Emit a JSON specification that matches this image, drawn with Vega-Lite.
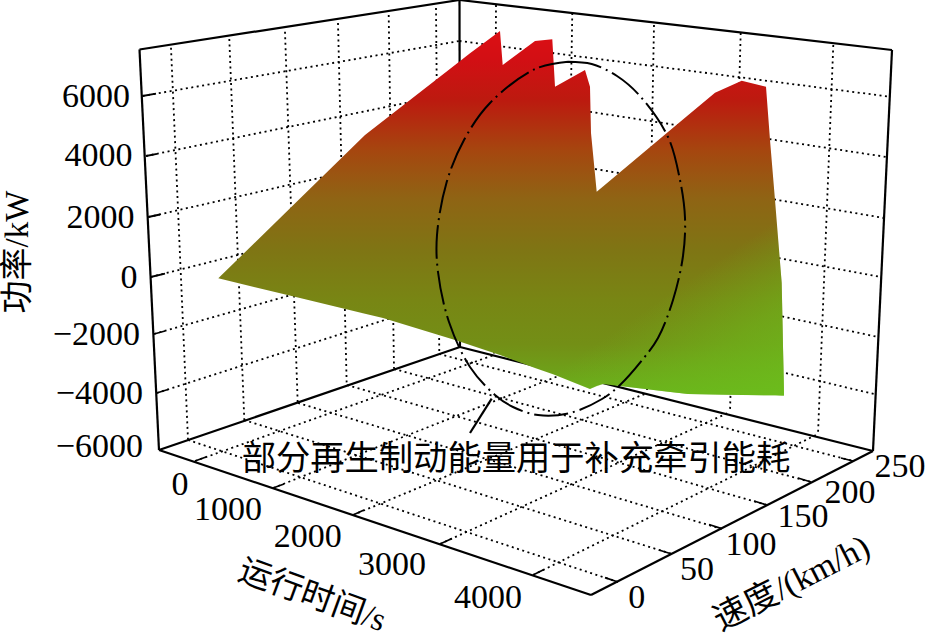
{"$schema":"https://vega.github.io/schema/vega-lite/v6.json","width":925,"height":637,"padding":0,"autosize":{"type":"none"},"background":"white","view":{"stroke":null},
"datasets":{
"grid":[
{"x0":142.5,"y0":96,"x1":459.5,"y1":41},{"x0":146,"y0":156,"x1":459.5,"y1":92},{"x0":148.3,"y0":217,"x1":459.5,"y1":146},{"x0":150.7,"y0":277,"x1":459.5,"y1":199},{"x0":154,"y0":334,"x1":459.5,"y1":247},{"x0":156.7,"y0":393,"x1":459.5,"y1":296},
{"x0":459.5,"y0":41,"x1":890,"y1":96.7},{"x0":459.5,"y0":92,"x1":886.7,"y1":157},{"x0":459.5,"y0":146,"x1":884,"y1":218},{"x0":459.5,"y0":199,"x1":881,"y1":277},{"x0":459.5,"y0":247,"x1":878,"y1":337},{"x0":459.5,"y0":296,"x1":874.3,"y1":394},
{"x0":171,"y0":47.7,"x1":188,"y1":439.7},{"x0":229.3,"y0":39,"x1":244.3,"y1":420},{"x0":285,"y0":31.7,"x1":297.7,"y1":403},{"x0":338,"y0":23,"x1":346.7,"y1":385},{"x0":388.7,"y0":15,"x1":394,"y1":368.7},{"x0":436,"y0":8,"x1":439.3,"y1":353.7},
{"x0":496,"y0":5,"x1":494,"y1":355},{"x0":572.3,"y0":13,"x1":566,"y1":373},{"x0":654,"y0":25,"x1":647,"y1":393},{"x0":740.7,"y0":33,"x1":730,"y1":412},{"x0":833.3,"y0":45,"x1":818,"y1":434},
{"x0":188,"y0":440,"x1":618,"y1":582},{"x0":244,"y0":420,"x1":672,"y1":554},{"x0":298,"y0":403,"x1":722,"y1":529},{"x0":347,"y0":385,"x1":767,"y1":505},{"x0":394,"y0":369,"x1":811,"y1":482},{"x0":439,"y0":354,"x1":853,"y1":461},
{"x0":195,"y0":461,"x1":494,"y1":355},{"x0":273,"y0":488,"x1":566,"y1":373},{"x0":353,"y0":515,"x1":647,"y1":393},{"x0":440,"y0":544,"x1":730,"y1":412},{"x0":533,"y0":575,"x1":818,"y1":434}],
"frame":[
{"x0":139.5,"y0":49.5,"x1":459.5,"y1":0},{"x0":459.5,"y0":0,"x1":892,"y1":50},{"x0":139.5,"y0":49.5,"x1":159,"y1":450},{"x0":892,"y0":50,"x1":873,"y1":451},{"x0":459.5,"y0":0,"x1":460,"y1":347},{"x0":159,"y0":450,"x1":460,"y1":347},{"x0":460,"y0":347,"x1":873,"y1":451},{"x0":159,"y0":450,"x1":591,"y1":595},{"x0":591,"y0":595,"x1":873,"y1":451},{"x0":491.7,"y0":398.7,"x1":470,"y1":433}],
"stubs":[
{"x0":142.5,"y0":96,"x1":156,"y1":93.6},{"x0":146,"y0":156,"x1":157,"y1":153.8},{"x0":148.3,"y0":217,"x1":160,"y1":214.5},{"x0":150.7,"y0":277,"x1":165,"y1":273.6},{"x0":154,"y0":334,"x1":165,"y1":331},{"x0":156.7,"y0":393,"x1":168,"y1":389.5},
{"x0":195,"y0":461,"x1":206,"y1":457},{"x0":273,"y0":488,"x1":284,"y1":484},{"x0":353,"y0":515,"x1":364,"y1":510},{"x0":440,"y0":544,"x1":452,"y1":538.5},{"x0":533,"y0":575,"x1":544,"y1":569.5},
{"x0":618,"y0":582,"x1":605,"y1":577.7},{"x0":671.7,"y0":554,"x1":659,"y1":550},{"x0":721.7,"y0":528.7,"x1":709,"y1":524.5},{"x0":766.7,"y0":505,"x1":754,"y1":501},{"x0":811,"y0":482,"x1":798,"y1":478},{"x0":853,"y0":461,"x1":841,"y1":458}],
"surface":[
{"x":218.3,"top":278.3,"bot":278.3},{"x":300,"top":198.5,"bot":298},{"x":365,"top":135,"bot":313.8},{"x":383,"top":121,"bot":318},{"x":455,"top":65,"bot":340},{"x":470,"top":53.3,"bot":345},{"x":500,"top":31,"bot":355},{"x":502.7,"top":65,"bot":356},{"x":535,"top":41,"bot":368},{"x":552.3,"top":39.3,"bot":374},{"x":555,"top":86.7,"bot":375},{"x":585,"top":70,"bot":387},{"x":590,"top":86.7,"bot":389},{"x":591,"top":133,"bot":388.5},{"x":596.7,"top":191.7,"bot":386},{"x":603,"top":186.4,"bot":384},{"x":668.3,"top":131.7,"bot":391.7},{"x":688,"top":115.3,"bot":394},{"x":715,"top":92.7,"bot":394.5},{"x":741.7,"top":80.7,"bot":395},{"x":766,"top":86.7,"bot":395.2},{"x":770,"top":140,"bot":395.3},{"x":775,"top":200,"bot":395.3},{"x":781.7,"top":283,"bot":395.4},{"x":784,"top":395.4,"bot":395.5}],
"glow":[
{"x":520,"top":215,"bot":363},{"x":555,"top":215,"bot":375},{"x":585,"top":215,"bot":387},{"x":590,"top":215,"bot":389},{"x":603,"top":215,"bot":384},{"x":668.3,"top":215,"bot":391.7},{"x":688,"top":215,"bot":394},{"x":715,"top":215,"bot":394.5},{"x":766,"top":215,"bot":395.2},{"x":776,"top":215,"bot":395.3},{"x":781.7,"top":283,"bot":395.4},{"x":784,"top":395.4,"bot":395.5}],
"ellipse":[
{"i":1,"x":568,"y":61.7},{"i":2,"x":591.7,"y":64},{"i":3,"x":617,"y":76},{"i":4,"x":640,"y":96},{"i":5,"x":668,"y":137},{"i":6,"x":680,"y":180},{"i":7,"x":685,"y":218},{"i":8,"x":683,"y":256},{"i":9,"x":673,"y":300},{"i":10,"x":658,"y":338},{"i":11,"x":643,"y":359},{"i":12,"x":620,"y":385},{"i":13,"x":602,"y":399},{"i":14,"x":570,"y":413},{"i":15,"x":538,"y":415},{"i":16,"x":513,"y":407},{"i":17,"x":495,"y":395},{"i":18,"x":470,"y":367},{"i":19,"x":449,"y":322},{"i":20,"x":438,"y":272},{"i":21,"x":437,"y":235},{"i":22,"x":446.7,"y":182},{"i":23,"x":464,"y":140},{"i":24,"x":490,"y":103},{"i":25,"x":535,"y":69},{"i":26,"x":568,"y":61.7}],
"labelsR":[{"t":"6000","x":130,"y":96.7},{"t":"4000","x":132.5,"y":156},{"t":"2000","x":134.5,"y":218},{"t":"0","x":137.5,"y":278},{"t":"−2000","x":140,"y":335},{"t":"−4000","x":143,"y":394},{"t":"−6000","x":143,"y":447}],
"labelsC":[{"t":"0","x":180,"y":485},{"t":"1000","x":228,"y":510},{"t":"2000","x":307.7,"y":537},{"t":"3000","x":392,"y":565},{"t":"4000","x":488,"y":598},{"t":"0","x":636.7,"y":598},{"t":"50","x":697,"y":570},{"t":"100","x":751,"y":545},{"t":"150","x":803,"y":517},{"t":"200","x":850,"y":493},{"t":"250","x":900,"y":467}],
"note":[{"t":"部分再生制动能量用于补充牵引能耗","x":516,"y":460}]
},
"encoding":{},
"layer":[
{"data":{"name":"grid"},"mark":{"type":"rule","stroke":"#000","strokeWidth":1.8,"strokeDash":[2,3.5]},"encoding":{"x":{"field":"x0","type":"quantitative","scale":{"domain":[0,925]},"axis":null},"y":{"field":"y0","type":"quantitative","scale":{"domain":[637,0]},"axis":null},"x2":{"field":"x1"},"y2":{"field":"y1"}}},
{"data":{"name":"stubs"},"mark":{"type":"rule","stroke":"#000","strokeWidth":1.8},"encoding":{"x":{"field":"x0","type":"quantitative","scale":{"domain":[0,925]},"axis":null},"y":{"field":"y0","type":"quantitative","scale":{"domain":[637,0]},"axis":null},"x2":{"field":"x1"},"y2":{"field":"y1"}}},
{"data":{"name":"frame"},"mark":{"type":"rule","stroke":"#000","strokeWidth":2.2},"encoding":{"x":{"field":"x0","type":"quantitative","scale":{"domain":[0,925]},"axis":null},"y":{"field":"y0","type":"quantitative","scale":{"domain":[637,0]},"axis":null},"x2":{"field":"x1"},"y2":{"field":"y1"}}},
{"data":{"name":"surface"},"mark":{"type":"area","orient":"vertical","color":{"gradient":"linear","x1":0,"y1":0,"x2":0,"y2":1,"stops":[{"offset":0,"color":"#dc0f14"},{"offset":0.08,"color":"#d20f14"},{"offset":0.19,"color":"#bc1a0f"},{"offset":0.33,"color":"#a5470f"},{"offset":0.46,"color":"#8f6414"},{"offset":0.6,"color":"#7f7514"},{"offset":0.74,"color":"#788614"},{"offset":0.86,"color":"#738f16"},{"offset":1,"color":"#6ab01c"}]}},"encoding":{"x":{"field":"x","type":"quantitative","scale":{"domain":[0,925]},"axis":null},"y":{"field":"top","type":"quantitative","scale":{"domain":[637,0]},"axis":null},"y2":{"field":"bot"}}},
{"data":{"name":"glow"},"mark":{"type":"area","orient":"vertical","color":{"gradient":"linear","x1":0,"y1":0,"x2":1,"y2":1,"stops":[{"offset":0.5,"color":"rgba(108,190,28,0)"},{"offset":0.75,"color":"rgba(108,190,28,0.5)"},{"offset":1,"color":"rgba(108,190,28,0.85)"}]}},"encoding":{"x":{"field":"x","type":"quantitative","scale":{"domain":[0,925]},"axis":null},"y":{"field":"top","type":"quantitative","scale":{"domain":[637,0]},"axis":null},"y2":{"field":"bot"}}},
{"data":{"name":"ellipse"},"mark":{"type":"line","stroke":"#000","strokeWidth":2,"strokeDash":[34,5,2,5],"interpolate":"catmull-rom"},"encoding":{"x":{"field":"x","type":"quantitative","scale":{"domain":[0,925]},"axis":null},"y":{"field":"y","type":"quantitative","scale":{"domain":[637,0]},"axis":null},"order":{"field":"i"}}},
{"data":{"name":"labelsR"},"mark":{"type":"text","align":"right","baseline":"middle","font":"Liberation Serif, Noto Sans CJK SC","fontSize":34,"fill":"#000"},"encoding":{"x":{"field":"x","type":"quantitative","scale":{"domain":[0,925]},"axis":null},"y":{"field":"y","type":"quantitative","scale":{"domain":[637,0]},"axis":null},"text":{"field":"t"}}},
{"data":{"name":"labelsC"},"mark":{"type":"text","align":"center","baseline":"middle","font":"Liberation Serif, Noto Sans CJK SC","fontSize":34,"fill":"#000"},"encoding":{"x":{"field":"x","type":"quantitative","scale":{"domain":[0,925]},"axis":null},"y":{"field":"y","type":"quantitative","scale":{"domain":[637,0]},"axis":null},"text":{"field":"t"}}},
{"data":{"name":"note"},"mark":{"type":"text","align":"center","baseline":"middle","font":"Liberation Serif, Noto Sans CJK SC","fontSize":34.3,"fill":"#000"},"encoding":{"x":{"field":"x","type":"quantitative","scale":{"domain":[0,925]},"axis":null},"y":{"field":"y","type":"quantitative","scale":{"domain":[637,0]},"axis":null},"text":{"field":"t"}}},
{"data":{"values":[{"t":"功率/kW","x":18,"y":252}]},"mark":{"type":"text","align":"center","baseline":"middle","angle":270,"font":"Liberation Serif, Noto Sans CJK SC","fontSize":33,"fill":"#000"},"encoding":{"x":{"field":"x","type":"quantitative","scale":{"domain":[0,925]},"axis":null},"y":{"field":"y","type":"quantitative","scale":{"domain":[637,0]},"axis":null},"text":{"field":"t"}}},
{"data":{"values":[{"t":"运行时间/s","x":312,"y":596}]},"mark":{"type":"text","align":"center","baseline":"middle","angle":20,"font":"Liberation Serif, Noto Sans CJK SC","fontSize":33,"fill":"#000"},"encoding":{"x":{"field":"x","type":"quantitative","scale":{"domain":[0,925]},"axis":null},"y":{"field":"y","type":"quantitative","scale":{"domain":[637,0]},"axis":null},"text":{"field":"t"}}},
{"data":{"values":[{"t":"速度/(km/h)","x":792,"y":584}]},"mark":{"type":"text","align":"center","baseline":"middle","angle":333,"font":"Liberation Serif, Noto Sans CJK SC","fontSize":34,"fill":"#000"},"encoding":{"x":{"field":"x","type":"quantitative","scale":{"domain":[0,925]},"axis":null},"y":{"field":"y","type":"quantitative","scale":{"domain":[637,0]},"axis":null},"text":{"field":"t"}}}
]}
